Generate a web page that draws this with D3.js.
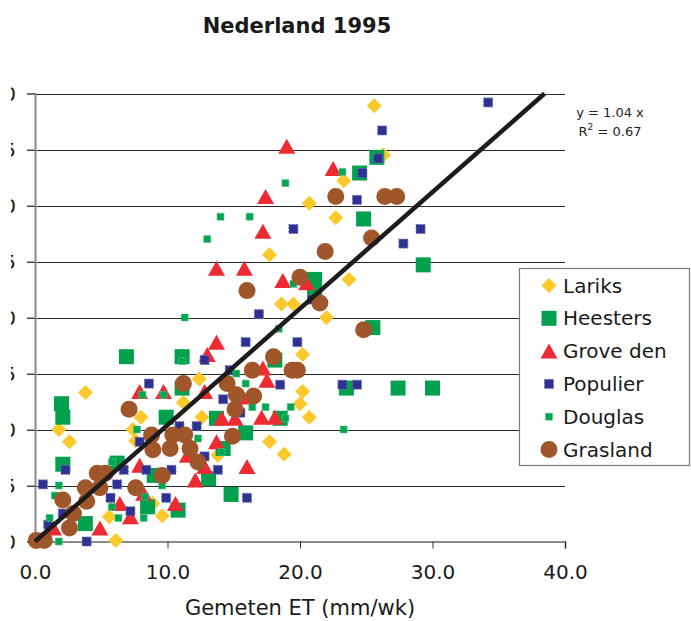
<!DOCTYPE html>
<html>
<head>
<meta charset="utf-8">
<script src="https://cdn.jsdelivr.net/npm/d3@7"></script>
<style>
  body { margin: 0; background: #fff; }
  svg { display: block; font-family: "DejaVu Sans", Verdana, sans-serif; }
</style>
</head>
<body>
<div id="chart"></div>
<script>
const W = 691;
const H = 621;

const title = "Nederland 1995";
const xTitle = "Gemeten ET (mm/wk)";
const xTicks = [0, 10, 20, 30, 40];
const yTicks = [0, 5, 10, 15, 20, 25, 30, 35, 40];
const slope = 1.04;
const rSquared = 0.67;

const lariksX = [3.8, 1.8, 2.6, 8.0, 7.4, 11.2, 7.6, 5.6, 9.6, 6.1, 8.9, 12.4, 12.6, 20.2, 20.0, 20.7, 17.7, 18.8, 13.8, 17.7, 18.6, 19.5, 20.7, 22.7, 23.7, 22.0, 20.2, 25.6, 26.3, 23.3];
const lariksY = [13.3, 10.0, 8.9, 11.1, 10.0, 12.4, 9.0, 2.2, 2.3, 0.1, 3.4, 14.5, 11.1, 13.4, 12.3, 11.1, 8.9, 7.8, 7.7, 25.6, 21.2, 21.2, 30.2, 28.9, 23.4, 20.0, 16.7, 38.9, 34.5, 32.2];

const heestersX = [2.0, 2.1, 2.1, 6.9, 11.1, 11.1, 9.9, 6.2, 3.8, 10.8, 8.5, 9.0, 18.1, 13.7, 15.9, 14.2, 13.1, 14.8, 18.5, 23.5, 27.4, 30.0, 24.8, 29.3, 21.1, 21.1, 25.5, 25.8, 24.5];
const heestersY = [12.3, 11.1, 6.9, 16.5, 16.5, 13.7, 11.1, 7.0, 1.6, 2.8, 3.1, 5.9, 16.2, 11.0, 9.7, 8.3, 5.6, 4.2, 11.0, 13.7, 13.7, 13.7, 28.8, 24.7, 23.4, 22.1, 19.1, 34.3, 32.9];

const groveX = [7.9, 9.7, 4.9, 6.4, 7.2, 10.6, 8.2, 12.1, 7.9, 12.8, 17.2, 17.5, 14.1, 15.1, 17.1, 18.1, 13.7, 16.0, 12.8, 15.7, 17.4, 17.2, 13.7, 15.8, 18.7, 13.7, 13.0, 20.5, 22.5, 19.0, 1.4, 11.5];
const groveY = [13.4, 13.4, 1.2, 3.4, 2.2, 3.4, 4.3, 5.5, 6.8, 13.4, 15.5, 14.4, 11.0, 11.0, 11.1, 11.1, 8.9, 6.7, 6.7, 12.9, 30.8, 27.7, 24.4, 24.4, 23.3, 17.8, 16.7, 23.1, 33.3, 35.3, 1.2, 7.7];

const populierX = [8.6, 0.6, 2.3, 3.9, 10.9, 12.2, 7.9, 6.7, 8.4, 10.3, 6.2, 5.7, 7.2, 9.9, 1.0, 2.1, 12.8, 14.7, 18.5, 14.2, 15.5, 12.8, 13.8, 16.0, 23.2, 24.3, 19.5, 16.9, 15.9, 19.8, 24.3, 29.1, 27.8, 20.9, 34.2, 26.2, 25.9, 24.7];
const populierY = [14.1, 5.1, 6.4, 0.0, 10.3, 10.3, 8.9, 6.4, 6.4, 6.4, 5.1, 3.9, 2.7, 3.9, 1.5, 2.5, 16.2, 15.3, 14.0, 12.7, 11.5, 7.6, 6.4, 3.9, 14.0, 14.0, 27.9, 20.3, 17.8, 17.8, 30.5, 27.9, 26.6, 21.6, 39.2, 36.7, 34.2, 32.9];

const douglasX = [8.1, 9.7, 7.7, 1.8, 1.5, 5.8, 6.3, 8.2, 8.3, 1.8, 1.1, 9.6, 5.8, 11.1, 15.2, 15.9, 17.4, 19.3, 18.9, 23.3, 12.3, 14.1, 16.4, 14.0, 16.2, 13.0, 19.5, 11.3, 18.4, 23.2, 18.9];
const douglasY = [13.1, 13.1, 10.0, 5.0, 4.1, 3.1, 2.1, 2.1, 4.0, 0.0, 2.1, 5.0, 7.1, 16.1, 15.0, 14.1, 12.0, 12.0, 11.0, 10.0, 9.2, 8.0, 12.0, 29.0, 29.0, 27.0, 23.0, 20.0, 19.0, 33.0, 32.0];

const graslandX = [11.2, 7.1, 8.8, 10.4, 11.3, 8.9, 10.2, 11.7, 12.3, 4.7, 5.3, 3.8, 4.9, 7.6, 9.6, 2.1, 3.9, 2.9, 2.6, 0.1, 0.7, 16.4, 19.4, 19.8, 14.5, 15.2, 16.5, 15.1, 14.9, 18.0, 16.0, 20.0, 22.7, 26.4, 27.3, 25.4, 21.9, 21.5, 24.8];
const graslandY = [14.1, 11.8, 9.5, 9.5, 9.5, 8.2, 8.3, 8.3, 7.1, 6.1, 6.1, 4.8, 4.8, 4.8, 5.9, 3.7, 3.6, 2.5, 1.2, 0.1, 0.1, 15.3, 15.3, 15.3, 14.1, 13.1, 13.0, 11.8, 9.4, 16.5, 22.4, 23.6, 30.8, 30.8, 30.8, 27.1, 25.9, 21.3, 18.9];

const seriesNames = ["Lariks", "Heesters", "Grove den", "Populier", "Douglas", "Grasland"];

// marker shapes, centred on 0,0
const shapes = {
  diamond: (s) => `M0,${-s}L${s},0L0,${s}L${-s},0Z`,
  square: (s) => `M${-s},${-s}H${s}V${s}H${-s}Z`,
  triangle: (s) => `M0,${-s}L${s + 1},${s}L${-s - 1},${s}Z`,
  circle: (s) => `M${s},0A${s},${s} 0 1,1 ${-s},0A${s},${s} 0 1,1 ${s},0Z`,
};

const series = [
  { name: seriesNames[0], xs: lariksX, ys: lariksY, shape: "diamond", size: 7.5, fill: "#fdc82a" },
  { name: seriesNames[1], xs: heestersX, ys: heestersY, shape: "square", size: 7.5, fill: "#00a04d" },
  { name: seriesNames[2], xs: groveX, ys: groveY, shape: "triangle", size: 7.5, fill: "#ee2b32" },
  { name: seriesNames[3], xs: populierX, ys: populierY, shape: "square", size: 4.5, fill: "#2e3192", stroke: "#6d6fb3" },
  { name: seriesNames[4], xs: douglasX, ys: douglasY, shape: "square", size: 3.5, fill: "#00a651", stroke: "#5cc58a" },
  { name: seriesNames[5], xs: graslandX, ys: graslandY, shape: "circle", size: 8.5, fill: "#a0562b" },
];

const x = d3.scaleLinear().domain([0, 40]).range([35, 565]);
const y = d3.scaleLinear().domain([0, 40]).range([541.5, 93.5]);

const svg = d3.select("#chart").append("svg")
  .attr("width", W).attr("height", H)
  .attr("viewBox", `0 0 ${W} ${H}`);

svg.append("rect").attr("width", W).attr("height", H).attr("fill", "#fff");

// title
svg.append("text")
  .attr("x", 297).attr("y", 33)
  .attr("text-anchor", "middle")
  .attr("font-size", 21).attr("font-weight", "bold")
  .attr("fill", "#1a1a1a")
  .text(title);

// gridlines
svg.append("g").selectAll("line")
  .data(yTicks.filter((t) => t > 0))
  .join("line")
  .attr("x1", 27).attr("x2", x(40))
  .attr("y1", (d) => Math.round(y(d)) + 0.5).attr("y2", (d) => Math.round(y(d)) + 0.5)
  .attr("stroke", "#2a2a2a").attr("stroke-width", 1.2);

// y axis
const yAxis = svg.append("g").attr("transform", "translate(35,0)")
  .call(d3.axisLeft(y).tickValues(yTicks).tickSize(8).tickFormat(""));
yAxis.select(".domain").attr("stroke", "#8a8a8a").attr("stroke-width", 2);
yAxis.selectAll(".tick line").attr("stroke", "#555");

// y labels: the original picture is cropped so only their last digit shows
svg.append("defs").append("clipPath").attr("id", "ylab-clip")
  .append("rect").attr("x", 11).attr("y", 0).attr("width", 14).attr("height", H);
svg.append("g").attr("clip-path", "url(#ylab-clip)")
  .selectAll("text")
  .data(yTicks)
  .join("text")
  .attr("x", 16).attr("y", (d) => y(d))
  .attr("dy", "0.35em")
  .attr("text-anchor", "end")
  .attr("font-size", 20).attr("fill", "#1a1a1a")
  .text(d3.format("d"));

// x axis
const xAxis = svg.append("g").attr("transform", `translate(0,${y(0)})`)
  .call(d3.axisBottom(x).tickValues(xTicks).tickSize(7).tickPadding(16).tickFormat(d3.format(".1f")));
xAxis.select(".domain").attr("stroke", "#8a8a8a").attr("stroke-width", 2);
xAxis.selectAll(".tick line").attr("stroke", "#333");
xAxis.selectAll(".tick text")
  .attr("font-size", 20).attr("fill", "#1a1a1a")
  .attr("font-family", "DejaVu Sans, Verdana, sans-serif");

svg.append("text")
  .attr("x", 300).attr("y", 615)
  .attr("text-anchor", "middle")
  .attr("font-size", 21).attr("fill", "#1a1a1a")
  .text(xTitle);

// points
const marks = svg.append("g");
series.forEach((s) => {
  marks.append("g").selectAll("path")
    .data(s.xs.map((v, i) => [v, s.ys[i]]))
    .join("path")
    .attr("transform", (d) => `translate(${x(d[0])},${y(d[1])})`)
    .attr("d", shapes[s.shape](s.size))
    .attr("fill", s.fill)
    .attr("stroke", s.stroke || "none")
    .attr("stroke-width", s.stroke ? 1 : 0)
    .attr("stroke-dasharray", s.stroke ? "2,1.5" : null);
});

// trend line y = 1.04 x, stopped at the top of the plot
const xEnd = 40 / slope;
svg.append("line")
  .attr("x1", x(0)).attr("y1", y(0))
  .attr("x2", x(xEnd)).attr("y2", y(slope * xEnd))
  .attr("stroke", "#1c1c1c").attr("stroke-width", 4.5);

// equation
svg.append("text").attr("font-size", 13).attr("fill", "#222").attr("text-anchor", "middle")
  .attr("x", 610).attr("y", 117).text(`y = ${slope.toFixed(2)} x`);
const r2 = svg.append("text").attr("font-size", 13).attr("fill", "#222").attr("text-anchor", "middle")
  .attr("x", 610).attr("y", 136);
r2.append("tspan").text("R");
r2.append("tspan").attr("font-size", 9).attr("dy", -6).text("2");
r2.append("tspan").attr("dy", 6).text(` = ${rSquared.toFixed(2)}`);

// legend
const legend = svg.append("g");
legend.append("rect")
  .attr("x", 519.5).attr("y", 268.5).attr("width", 170).attr("height", 197)
  .attr("fill", "#fff").attr("stroke", "#7a7a7a").attr("stroke-width", 1.2);
const legendRow = d3.scalePoint().domain(seriesNames).range([285.5, 449.5]);
series.forEach((s) => {
  const g = legend.append("g").attr("transform", `translate(549,${legendRow(s.name)})`);
  g.append("path")
    .attr("d", shapes[s.shape](s.size))
    .attr("fill", s.fill)
    .attr("stroke", s.stroke || "none")
    .attr("stroke-dasharray", s.stroke ? "2,1.5" : null);
  g.append("text")
    .attr("x", 14).attr("dy", "0.35em")
    .attr("font-size", 20).attr("fill", "#1a1a1a")
    .text(s.name);
});
</script>
</body>
</html>
